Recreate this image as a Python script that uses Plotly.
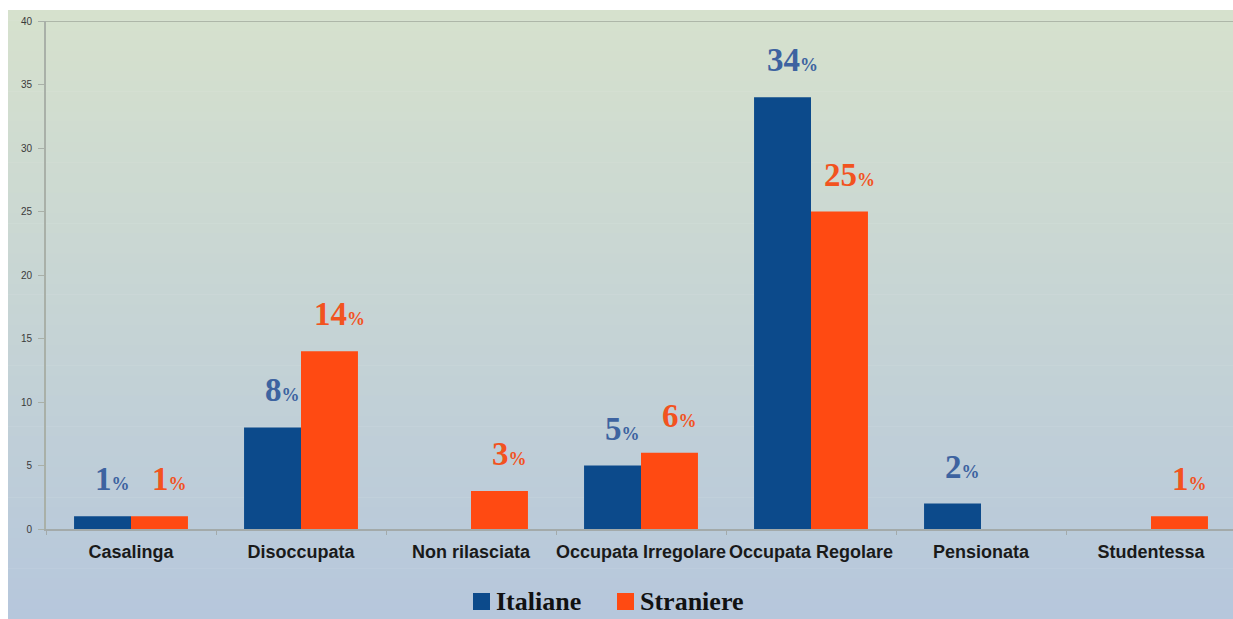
import plotly.graph_objects as go

categories = ["Casalinga", "Disoccupata", "Non rilasciata", "Occupata Irregolare",
              "Occupata Regolare", "Pensionata", "Studentessa"]
italiane = [1, 8, 0, 5, 34, 2, 0]
straniere = [1, 14, 3, 6, 25, 0, 1]
series_names = ["Italiane", "Straniere"]

BLUE = "#0c4a8b"
ORANGE = "#ff4a12"
BLUE_TXT = "#3d63a0"
ORANGE_TXT = "#f2531f"

W, H = 1233, 619
L, R, T, B = 46, 0, 21, 90
PW, PH = W - L - R, H - T - B


def px_x(p):
    return (p - L) / PW


def px_y(p):
    return (H - B - p) / PH


fig = go.Figure()
fig.add_trace(go.Bar(x=categories, y=italiane, name=series_names[0],
                     marker=dict(color=BLUE, line=dict(width=0)), showlegend=False))
fig.add_trace(go.Bar(x=categories, y=straniere, name=series_names[1],
                     marker=dict(color=ORANGE, line=dict(width=0)), showlegend=False))

shapes = []
# vertical background gradient (green-grey at the top to pale blue at the bottom)
top_rgb = (214, 225, 205)
bot_rgb = (182, 199, 220)
n = 60
y_start, y_end = 10, H
for k in range(n):
    t = k / (n - 1)
    c = tuple(round(top_rgb[j] + (bot_rgb[j] - top_rgb[j]) * t) for j in range(3))
    y0 = y_start + (y_end - y_start) * k / n
    y1 = y_start + (y_end - y_start) * (k + 1) / n + 0.6
    shapes.append(dict(type="rect", xref="paper", yref="paper",
                       x0=px_x(8), x1=px_x(W + 2), y0=px_y(y1), y1=px_y(y0),
                       fillcolor="rgb(%d,%d,%d)" % c, line=dict(width=0), layer="below"))

# top frame line at the axis maximum
shapes.append(dict(type="line", xref="paper", yref="y", x0=0, x1=1, y0=40, y1=40,
                   line=dict(color="#aeb7a8", width=2), layer="below"))

annotations = []
bw = 0.335
for vals, off, col in ((italiane, -bw / 2, BLUE_TXT), (straniere, bw / 2, ORANGE_TXT)):
    for i, v in enumerate(vals):
        if v == 0:
            continue
        annotations.append(dict(
            x=i + off, y=v, xref="x", yref="y",
            text="<b>%d</b><span style='font-size:18px'><b>%%</b></span>" % v,
            showarrow=False, yanchor="middle", xanchor="center",
            yshift=37, xshift=10,
            font=dict(family="Liberation Serif", size=33, color=col)))

# legend drawn as squares with serif labels
legend_items = [(series_names[0], BLUE, 473), (series_names[1], ORANGE, 617)]
for name, col, x0 in legend_items:
    shapes.append(dict(type="rect", xref="paper", yref="paper",
                       x0=px_x(x0), x1=px_x(x0 + 17), y0=px_y(610), y1=px_y(593),
                       fillcolor=col, line=dict(width=0)))
    annotations.append(dict(x=px_x(x0 + 21), y=px_y(601), xref="paper", yref="paper",
                            text="<b>%s</b>" % name, showarrow=False,
                            xanchor="left", yanchor="middle",
                            font=dict(family="Liberation Serif", size=26, color="#111111")))

fig.update_layout(
    width=W, height=H,
    margin=dict(l=L, r=R, t=T, b=B, pad=0),
    paper_bgcolor="white",
    plot_bgcolor="rgba(0,0,0,0)",
    barmode="group", bargap=0.33, bargroupgap=0,
    shapes=shapes, annotations=annotations,
    showlegend=False,
    xaxis=dict(
        type="category", range=[-0.5, 6.5 - 3 / 170],
        showline=True, linecolor="#a3aaaa", linewidth=2,
        ticks="outside", tickson="boundaries", ticklen=4, tickcolor="#a3aaaa",
        ticklabelstandoff=5, tickangle=0, automargin=False,
        tickfont=dict(family="Liberation Sans", size=18, color="#1a1a1a"),
        showgrid=False, zeroline=False, fixedrange=True,
        tickprefix="<b>", ticksuffix="</b>",
    ),
    yaxis=dict(
        range=[0, 40], dtick=5, tick0=0,
        showline=True, linecolor="#a9b0a8", linewidth=2,
        ticks="outside", ticklen=6, tickcolor="#a9b0a8",
        ticklabelstandoff=4, automargin=False,
        tickfont=dict(family="Liberation Sans", size=10, color="#3a3a3a"),
        showgrid=False, zeroline=False,
    ),
)

fig.write_html("out.html")
